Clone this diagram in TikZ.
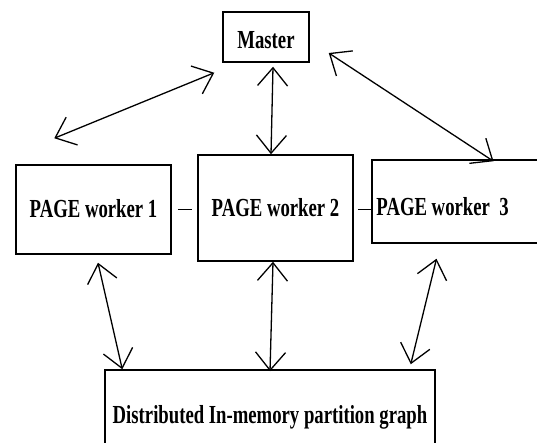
\documentclass[tikz,border=0pt]{standalone}
\usepackage{fontspec}
\setmainfont{Liberation Serif}[FakeStretch=0.72]
\usepackage{tikz}
\usetikzlibrary{arrows.meta, positioning, calc}
\tikzstyle{block} = [rectangle, draw=black, line width=1.5pt, inner sep=0pt, text height=17pt, text depth=0pt, font=\fontsize{26}{28}\selectfont\bfseries]
\tikzstyle{blocktext} = [inner sep=0pt, text height=17pt, text depth=0pt, font=\fontsize{26}{28}\selectfont\bfseries]
\tikzstyle{link} = [draw=black, line width=1.3pt, {Straight Barb[length=18pt,width=30pt]}-{Straight Barb[length=18pt,width=30pt]}]

\begin{document}
\begin{tikzpicture}[x=1pt, y=-1pt]
\useasboundingbox (0,0) rectangle (537,443);
\node (master) [block, minimum width=86pt, minimum height=50pt, text height=24pt] at (266,37) {Master};
\node (worker1) [block, minimum width=155pt, minimum height=89pt] at (93.5,209.5) {PAGE worker 1};
\node (worker2) [block, minimum width=155pt, minimum height=106pt] at (275.5,208) {PAGE worker\ 2\hspace{7pt}};
\node (worker3) [block, minimum width=175pt, minimum height=83pt] at (459.5,201.5) {};
\node (worker3text) [blocktext, right=5pt of worker3.west, yshift=-6pt] {PAGE worker\ \ 3};
\node (graph) [block, minimum width=330pt, minimum height=90pt] at (270,415) {Distributed In-memory partition graph};

% master to workers
\draw [link] ([xshift=-8pt,yshift=-10pt]master.south west) -- ([xshift=39pt,yshift=26pt]worker1.north west);
\draw [link] ([xshift=7pt,yshift=-4pt]master.south) -- ([xshift=-4.5pt]worker2.north);
\draw [link] ([xshift=19pt,yshift=-16pt]master.east) -- ([xshift=34pt,yshift=-2pt]worker3.north);

% workers to graph
\draw [link] ([xshift=4.5pt,yshift=-8pt]worker1.south) -- ([xshift=18pt]graph.north west);
\draw [link] ([xshift=-2.5pt]worker2.south) -- ([yshift=-2pt]graph.north);
\draw [link] ([xshift=-23pt,yshift=-15pt]worker3.south) -- ([xshift=-25pt,yshift=5pt]graph.north east);

% between workers
\draw [line width=1.5pt, shorten <=6pt, shorten >=5pt] (worker1.east) -- (worker1.east -| worker2.west);
\draw [line width=1.5pt, shorten <=4pt] (worker2.east |- worker1.east) -- (worker1.east -| worker3.west);
\end{tikzpicture}
\end{document}
